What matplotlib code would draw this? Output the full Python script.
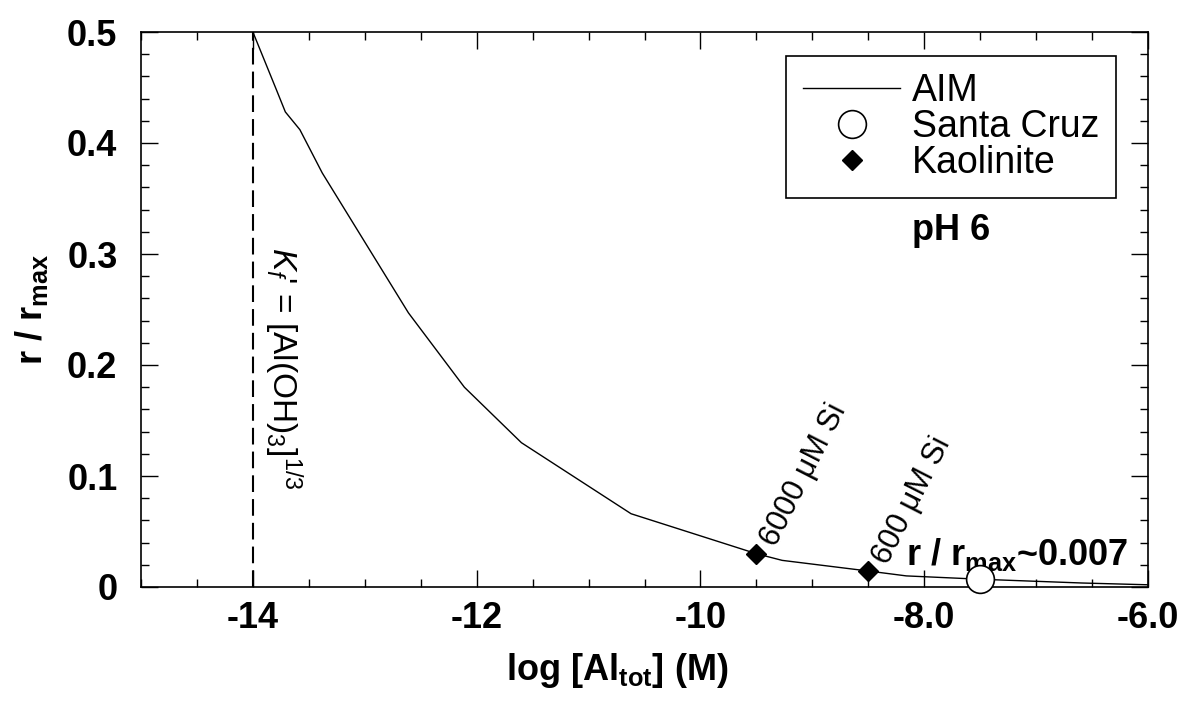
import matplotlib
matplotlib.use("Agg")
import matplotlib.pyplot as plt
from matplotlib.ticker import FixedLocator, MultipleLocator

plt.rcParams['font.family'] = ['Liberation Sans', 'DejaVu Sans']
plt.rcParams['mathtext.fontset'] = 'custom'
plt.rcParams['mathtext.rm'] = 'Liberation Sans'
plt.rcParams['mathtext.it'] = 'Liberation Sans:italic'
plt.rcParams['mathtext.bf'] = 'Liberation Sans:bold'

# AIM model curve, r/rmax vs log total Al
aim_x = [-14.0, -13.79, -13.71, -13.58, -13.38, -12.61, -12.11, -11.60,
         -10.62, -9.50, -9.27, -8.50, -8.16, -7.50, -6.59, -6.0]
aim_y = [0.5, 0.448, 0.428, 0.412, 0.373, 0.247, 0.180, 0.130,
         0.066, 0.030, 0.024, 0.0144, 0.010, 0.007, 0.0036, 0.002]

# measured points
santa_x = [-7.5]
santa_y = [0.007]
kaol_x = [-9.5, -8.5]
kaol_y = [0.030, 0.0144]
kaol_labels = ['6000 μM Si', '600 μM Si']

# Kf' limit
kf_x = [-14.0, -14.0]
kf_y = [0.0, 0.5]

xticks = [-14, -12, -10, -8, -6]
xticklabels = ['-14', '-12', '-10', '-8.0', '-6.0']
yticks = [0, 0.1, 0.2, 0.3, 0.4, 0.5]
yticklabels = ['0', '0.1', '0.2', '0.3', '0.4', '0.5']

fig = plt.figure(figsize=(11.88, 7.09), dpi=100)
ax = fig.add_axes([141/1188, 1 - 587/709, 1007/1188, 555/709])

ax.plot(kf_x, kf_y, color='black', lw=1.5, dashes=(8, 3.4))
ax.plot(aim_x, aim_y, color='black', lw=1.0, label='AIM')
ax.plot(santa_x, santa_y, 'o', ms=20, mfc='white', mec='black', mew=1.2,
        label='Santa Cruz', clip_on=False, zorder=5)
ax.plot(kaol_x, kaol_y, 'D', ms=10.5, mfc='black', mec='black',
        label='Kaolinite', zorder=5)

for x, y, s in zip(kaol_x, kaol_y, kaol_labels):
    ax.text(x + 0.17, y + 0.005, s, fontsize=22, rotation=63,
            rotation_mode='anchor', ha='left', va='baseline')

ax.text(-13.73, 0.197, r"$K_f$' = [Al(OH)$_3$]$^{1/3}$", fontsize=24,
        rotation=-90, ha='center', va='center')
ax.text(-7.76, 0.3126, 'pH 6', fontsize=26, fontweight='bold',
        ha='center', va='baseline')
ax.text(-8.16, 0.020, r'r / r$_{\mathbf{max}}$~0.007', fontsize=26,
        fontweight='bold', ha='left', va='baseline')

ax.set_xlim(-15, -6)
ax.set_ylim(0, 0.5)
ax.xaxis.set_major_locator(FixedLocator(xticks))
ax.xaxis.set_minor_locator(MultipleLocator(0.5))
ax.yaxis.set_major_locator(FixedLocator(yticks))
ax.yaxis.set_minor_locator(MultipleLocator(0.02))
ax.set_xticklabels(xticklabels)
ax.set_yticklabels(yticklabels)

ax.tick_params(which='both', direction='in', top=True, right=True, width=1.0)
ax.tick_params(which='major', length=12)
ax.tick_params(which='minor', length=6)
ax.tick_params(axis='x', which='major', pad=10)
ax.tick_params(axis='y', which='major', pad=17)
for lab in ax.get_xticklabels() + ax.get_yticklabels():
    lab.set_fontsize(26)
    lab.set_fontweight('bold')
for sp in ax.spines.values():
    sp.set_linewidth(1.2)

ax.set_xlabel(r'log [Al$_{\mathbf{tot}}$] (M)', fontsize=26, fontweight='bold')
ax.set_ylabel(r'r / r$_{\mathbf{max}}$', fontsize=26, fontweight='bold')
ax.xaxis.set_label_coords(0.473, -0.115)
ax.yaxis.set_label_coords(-0.09, 0.5)

leg = ax.legend(loc='upper right', bbox_to_anchor=(0.968, 0.957),
                borderaxespad=0, fontsize=27, handlelength=2.6,
                handletextpad=0.3, labelspacing=0.0, borderpad=0.45,
                fancybox=False, framealpha=1, edgecolor='black')
leg.get_frame().set_linewidth(1.2)

fig.savefig('out.png', dpi=100)
